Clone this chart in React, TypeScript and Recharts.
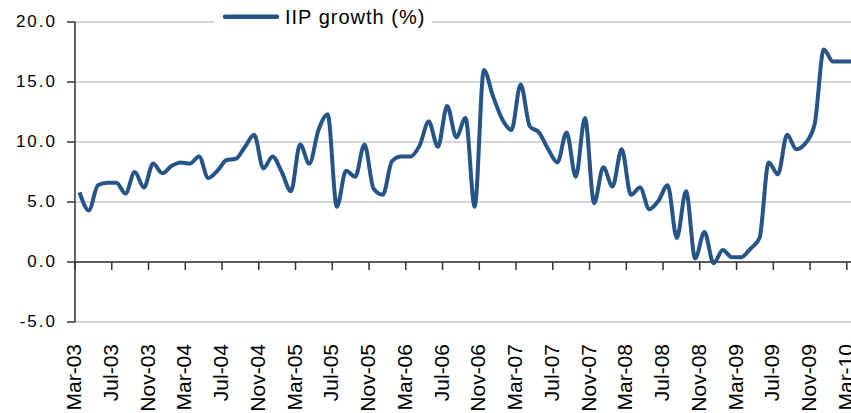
import React from "react";
import { LineChart, Line, XAxis, YAxis, CartesianGrid, ReferenceLine } from "recharts";

// IIP growth (%), monthly from Mar-03
const values = [
  5.8, 4.3, 6.4, 6.6, 6.6, 5.7, 7.5, 6.2, 8.2, 7.4, 8.0, 8.3,
  8.2, 8.8, 7.0, 7.6, 8.5, 8.6, 9.6, 10.6, 7.8, 8.8, 7.5, 5.9,
  9.8, 8.2, 11.0, 12.3, 4.6, 7.6, 7.1, 9.8, 6.1, 5.6, 8.4, 8.8,
  8.8, 9.7, 11.7, 9.6, 13.0, 10.4, 12.0, 4.6, 16.0, 13.8, 11.9, 11.0,
  14.8, 11.3, 10.8, 9.4, 8.3, 10.8, 7.1, 12.0, 4.9, 7.9, 6.3, 9.4,
  5.6, 6.2, 4.4, 5.1, 6.4, 2.0, 5.9, 0.3, 2.5, -0.1, 1.0, 0.4,
  0.4, 1.1, 2.0, 8.3, 7.3, 10.6, 9.4, 9.9, 11.5, 17.7, 16.7, 16.7,
  16.7,
];

// one label every 4 months
const tickLabels = [
  "Mar-03", "Jul-03", "Nov-03", "Mar-04", "Jul-04", "Nov-04", "Mar-05", "Jul-05",
  "Nov-05", "Mar-06", "Jul-06", "Nov-06", "Mar-07", "Jul-07", "Nov-07", "Mar-08",
  "Jul-08", "Nov-08", "Mar-09", "Jul-09", "Nov-09", "Mar-10",
];

const yTicks = [-5, 0, 5, 10, 15, 20];

const data = values.map((v, i) => ({ m: i + 0.5, v }));
const xTicks = tickLabels.map((_, k) => k * 4);

const BLUE = "#255488";
const FONT = "'Liberation Sans', Arial, sans-serif";

function XTick(props: any) {
  const { x, y, payload } = props;
  const label = tickLabels[Math.round(payload.value / 4)];
  const ty = y + 22;
  return (
    <text
      x={x}
      y={ty}
      dy={6}
      transform={`rotate(-90, ${x}, ${ty})`}
      textAnchor="end"
      fontSize={21}
      fontFamily={FONT}
      fill="#000"
    >
      {label}
    </text>
  );
}

function YTick(props: any) {
  const { x, y, payload } = props;
  return (
    <text
      x={x}
      y={y}
      dy={4.5}
      textAnchor="end"
      fontSize={17}
      fontFamily={FONT}
      fill="#000"
      style={{ letterSpacing: 2 }}
    >
      {payload.value.toFixed(1)}
    </text>
  );
}

export default function App() {
  return (
    <div
      style={{
        position: "absolute",
        left: 0,
        top: 0,
        width: 851,
        height: 413,
        overflow: "hidden",
        background: "#fff",
      }}
    >
      <LineChart
        width={856}
        height={413}
        data={data}
        margin={{ top: 22, right: 0, bottom: 0, left: 0 }}
      >
        <CartesianGrid vertical={false} stroke="#c8c8c8" strokeWidth={1.5} />
        <XAxis
          dataKey="m"
          type="number"
          domain={[0, 85]}
          ticks={xTicks}
          interval={0}
          axisLine={false}
          tickLine={false}
          tickSize={0}
          tickMargin={0}
          height={91}
          tick={<XTick />}
        />
        <YAxis
          domain={[-5, 20]}
          ticks={yTicks}
          interval={0}
          width={75}
          axisLine={{ stroke: "#333", strokeWidth: 1.5 }}
          tickLine={{ stroke: "#333", strokeWidth: 1.5 }}
          tickSize={8}
          tickMargin={10}
          tick={<YTick />}
        />
        <ReferenceLine y={0} stroke="#333" strokeWidth={1.5} />
        {xTicks.map((t) => (
          <ReferenceLine
            key={t}
            segment={[
              { x: t, y: 0 },
              { x: t, y: -0.67 },
            ]}
            stroke="#333"
            strokeWidth={1.5}
          />
        ))}
        <Line
          type="monotone"
          dataKey="v"
          stroke={BLUE}
          strokeWidth={4}
          strokeLinejoin="round"
          dot={false}
          isAnimationActive={false}
        />
      </LineChart>
      <svg
        width={851}
        height={40}
        style={{ position: "absolute", left: 0, top: 0 }}
      >
        <rect x={214} y={4} width={218} height={27} fill="#fff" />
        <line
          x1={225}
          y1={16.7}
          x2={277}
          y2={16.7}
          stroke={BLUE}
          strokeWidth={4.5}
          strokeLinecap="round"
        />
        <text
          x={285}
          y={23.5}
          fontSize={20}
          fontFamily={FONT}
          fill="#000"
          style={{ letterSpacing: 1 }}
        >
          IIP growth (%)
        </text>
      </svg>
    </div>
  );
}
